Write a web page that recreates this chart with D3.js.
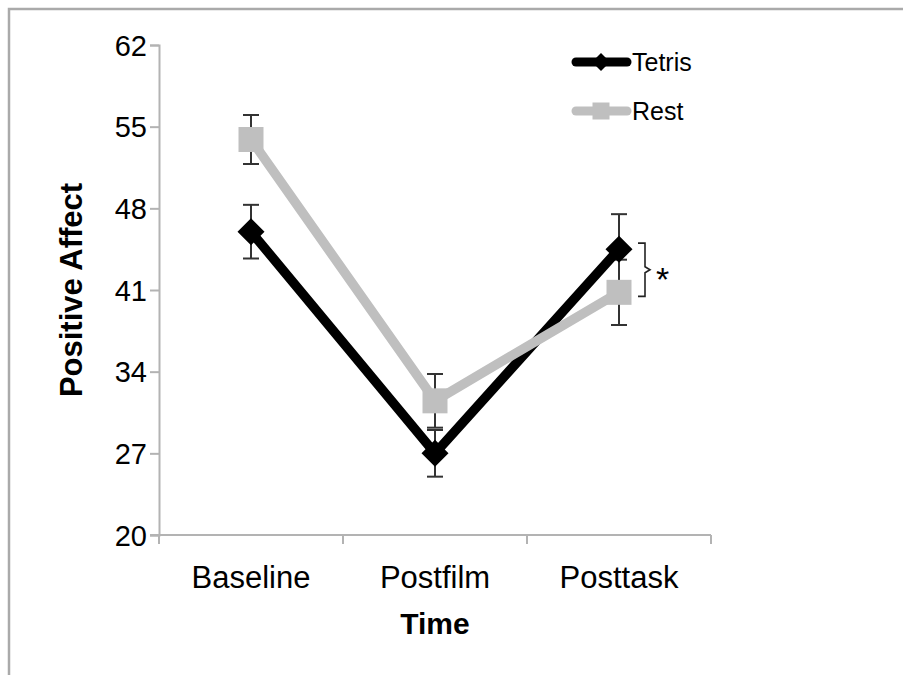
<!DOCTYPE html>
<html><head><meta charset="utf-8">
<script src="https://cdn.jsdelivr.net/npm/d3@7"></script>
<style>body{margin:0;background:#fff;} text{font-family:"Liberation Sans",Arial,sans-serif;}</style>
</head><body>
<svg id="c" width="903" height="675"></svg>
<script>
const categories = ["Baseline", "Postfilm", "Posttask"];
const tetrisValues = [46.0, 27.0, 44.5];
const tetrisErrors = [2.3, 2.0, 3.0];
const restValues = [53.9, 31.5, 40.8];
const restErrors = [2.1, 2.3, 2.8];
const yTicks = [20, 27, 34, 41, 48, 55, 62];
const seriesNames = ["Tetris", "Rest"];

const svg = d3.select("#c");
svg.append("path").attr("d","M9,680 L9,9 L910,9").attr("fill","none").attr("stroke","#aaaaaa").attr("stroke-width",2.5);

const x0 = 159, x1 = 711, yTop = 45, yBot = 535;
const x = d3.scalePoint().domain(categories).range([x0, x1]).padding(0.5);
const y = d3.scaleLinear().domain([20, 62]).range([yBot, yTop]);

// y axis
const yAxis = svg.append("g").attr("transform",`translate(${x0},0)`)
  .call(d3.axisLeft(y).tickValues(yTicks).tickSize(9).tickPadding(3).tickFormat(d3.format("d")));
yAxis.select(".domain").attr("stroke","#b3b3b3").attr("stroke-width",2);
yAxis.selectAll(".tick line").attr("stroke","#b3b3b3").attr("stroke-width",2);
yAxis.selectAll(".tick text").attr("font-size",29).attr("fill","#000").attr("dy","0.35em").attr("font-family","Liberation Sans, Arial, sans-serif");

// x axis
const xg = svg.append("g");
xg.append("line").attr("x1",x0-9).attr("x2",x1).attr("y1",yBot).attr("y2",yBot).attr("stroke","#b3b3b3").attr("stroke-width",2);
const step = x.step();
const bounds = [x0, x0+step, x0+2*step, x0+3*step];
xg.selectAll("line.tk").data(bounds).join("line").attr("class","tk")
  .attr("x1",d=>d).attr("x2",d=>d).attr("y1",yBot).attr("y2",yBot+9).attr("stroke","#b3b3b3").attr("stroke-width",2);
xg.selectAll("text").data(categories).join("text")
  .attr("x",d=>x(d)).attr("y",588).attr("text-anchor","middle").attr("font-size",31).text(d=>d);

svg.append("text").attr("x",x(categories[1])).attr("y",634).attr("text-anchor","middle")
  .attr("font-size",30).attr("font-weight","bold").text("Time");
svg.append("text").attr("transform",`translate(82,290) rotate(-90)`).attr("text-anchor","middle")
  .attr("font-size",31).attr("font-weight","bold").text("Positive Affect");

const series = [
  {name: seriesNames[0], vals: tetrisValues, errs: tetrisErrors, color:"#000000", marker:"diamond"},
  {name: seriesNames[1], vals: restValues, errs: restErrors, color:"#bfbfbf", marker:"square"}
];
const line = d3.line().x((d,i)=>x(categories[i])).y(d=>y(d));

// error bars
series.forEach(s=>{
  const g = svg.append("g");
  s.vals.forEach((v,i)=>{
    const cx = x(categories[i]);
    g.append("line").attr("x1",cx).attr("x2",cx).attr("y1",y(v-s.errs[i])).attr("y2",y(v+s.errs[i])).attr("stroke","#333").attr("stroke-width",2);
    [v-s.errs[i], v+s.errs[i]].forEach(e=>{
      g.append("line").attr("x1",cx-8).attr("x2",cx+8).attr("y1",y(e)).attr("y2",y(e)).attr("stroke","#333").attr("stroke-width",2);
    });
  });
});

function drawMarker(g, type, cx, cy, color, size){
  if(type==="diamond"){
    const r = size/2;
    g.append("path").attr("d",`M${cx},${cy-r} L${cx+r},${cy} L${cx},${cy+r} L${cx-r},${cy} Z`).attr("fill",color);
  } else {
    g.append("rect").attr("x",cx-size/2).attr("y",cy-size/2).attr("width",size).attr("height",size).attr("fill",color);
  }
}

series.forEach(s=>{
  const g = svg.append("g");
  g.append("path").datum(s.vals).attr("d",line).attr("fill","none").attr("stroke",s.color).attr("stroke-width",9.5).attr("stroke-linejoin","round");
  s.vals.forEach((v,i)=> drawMarker(g, s.marker, x(categories[i]), y(v), s.color, s.marker==="diamond"?27:25));
});

// legend
const legY = [62, 111];
series.forEach((s,i)=>{
  const g = svg.append("g");
  g.append("line").attr("x1",576).attr("x2",627).attr("y1",legY[i]).attr("y2",legY[i]).attr("stroke",s.color).attr("stroke-width",9).attr("stroke-linecap","round");
  drawMarker(g, s.marker, 601, legY[i], s.color, s.marker==="diamond"?18:17);
  g.append("text").attr("x",632).attr("y",legY[i]+9).attr("font-size",25).text(s.name);
});

// significance bracket
const bx = x(categories[2]) + 19;
const bTop = y(tetrisValues[2]) - 6, bBot = y(restValues[2]) + 4, bMid = (bTop+bBot)/2;
svg.append("path").attr("d",`M${bx},${bTop} L${bx+7},${bTop} L${bx+7},${bMid-3} L${bx+12},${bMid} L${bx+7},${bMid+3} L${bx+7},${bBot} L${bx},${bBot}`)
  .attr("fill","none").attr("stroke","#222").attr("stroke-width",1.6);
svg.append("text").attr("x",bx+18).attr("y",bMid+21).attr("font-size",34).text("*");
</script>
</body></html>
